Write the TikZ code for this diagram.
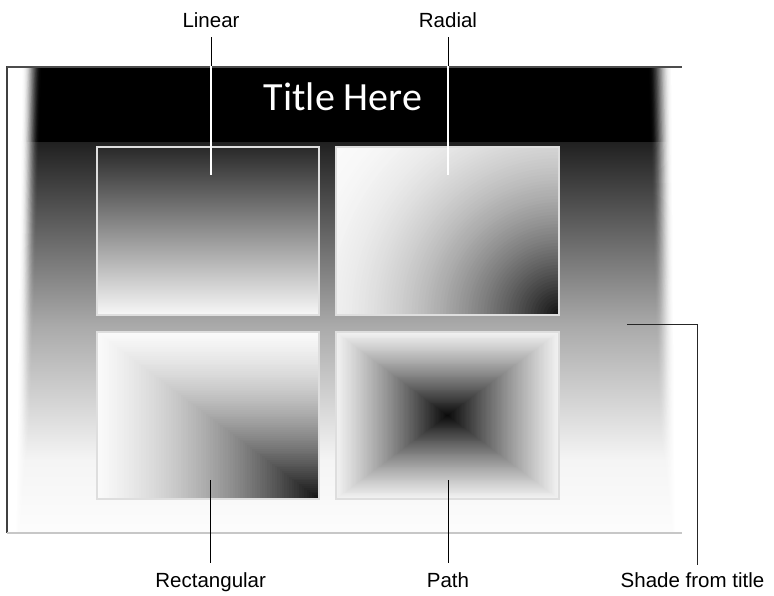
\documentclass[tikz,border=0pt]{standalone}
\usepackage{fontspec}
\setmainfont{Liberation Sans}
\newfontfamily\titlefont{Carlito}
\begin{document}
\begin{tikzpicture}[x=1pt,y=-1pt,
  lbl/.style={font=\fontsize{20.5}{24}\selectfont, inner sep=0pt, anchor=base},
  leader/.style={draw=black, line width=1pt},
  frame/.style={draw=black!13, line width=2pt, inner sep=0pt},
  gbox/.style={frame, minimum width=222pt, minimum height=167pt},
]
\useasboundingbox (0,0) rectangle (774,596);
\fill[white] (0,0) rectangle (774,596);

% ---- slide background ----
\fill[black] (7,67) rectangle (680.5,143.5);
\shade[top color=black!87, bottom color=black!34] (7,143) rectangle (680.5,323.5);
\shade[top color=black!34, bottom color=black!4] (7,323) rectangle (680.5,460.5);
\shade[top color=black!4, bottom color=black!1] (7,460) rectangle (680.5,533);

% left white strip (stacked translucent slices)
\foreach \k in {1,...,40}{
  \pgfmathsetmacro\ua{min((\k-0.5)/40,1)}
  \pgfmathsetmacro\ub{min((\k+0.5)/40,1)}
  \pgfmathsetmacro\Aa{\ua<0.45 ? 1 : 0.5*(1+cos(180*(\ua-0.45)/0.55))}
  \pgfmathsetmacro\Ab{\ub<0.45 ? 1 : 0.5*(1+cos(180*(\ub-0.45)/0.55))}
  \pgfmathsetmacro\bk{min(max(1-(1-\Aa)/max(1-\Ab,0.0001),0),1)}
  \pgfmathsetmacro\uk{\k/40}
  \fill[white, fill opacity=\bk] (6.5,67) -- ({7+35*\uk},67) -- ({7+21*\uk},533) -- (6.5,533) -- cycle;
}
% right white strip
\foreach \k in {1,...,40}{
  \pgfmathsetmacro\ua{min((\k-0.5)/40,1)}
  \pgfmathsetmacro\ub{min((\k+0.5)/40,1)}
  \pgfmathsetmacro\Aa{\ua<0.3 ? 1 : 0.5*(1+cos(180*(\ua-0.3)/0.7))}
  \pgfmathsetmacro\Ab{\ub<0.3 ? 1 : 0.5*(1+cos(180*(\ub-0.3)/0.7))}
  \pgfmathsetmacro\bk{min(max(1-(1-\Aa)/max(1-\Ab,0.0001),0),1)}
  \pgfmathsetmacro\uk{\k/40}
  \fill[white, fill opacity=\bk] (681.5,67) -- ({681-33*\uk},67) -- ({681-21*\uk},533) -- (681.5,533) -- cycle;
}

% slide border lines
\draw[black!75, line width=1.5pt] (7,66.5) -- (7,533);
\draw[black!70, line width=1.2pt] (7,67) -- (681.5,67);
\draw[black!22, line width=1.2pt] (7,533) -- (681.5,533);

% ---- Linear box ----
\node[gbox, minimum height=168pt, top color=black!84, middle color=black!31, bottom color=black!3] (linbox) at (208,231) {};

% ---- Radial box ----
\begin{scope}
  \clip (336,147) rectangle (559,315);
  \foreach \k in {90,89,...,1}{
    \pgfmathsetmacro\s{\k/90}
    \pgfmathsetmacro\c{0.06+0.92*(1-(1-\s)*(1-\s))}
    \definecolor{gtmp}{gray}{\c}
    \fill[gtmp] (559,315) circle ({282*\s});
  }
\end{scope}
\node[gbox, minimum width=223pt, minimum height=168pt] (radbox) at (447.5,231) {};

% ---- Rectangular box ----
\foreach \k in {90,89,...,1}{
  \pgfmathsetmacro\t{\k/90}
  \pgfmathsetmacro\c{0.06+0.92*(1.6*\t-0.6*\t*\t)}
  \definecolor{gtmp}{gray}{\c}
  \fill[gtmp] ({319-222*\t},{499-167*\t}) rectangle (319,499);
}
\node[gbox] (rectbox) at (208,415.5) {};

% ---- Path box ----
\foreach \k in {90,89,...,1}{
  \pgfmathsetmacro\t{\k/90}
  \pgfmathsetmacro\c{0.03+0.92*(1.2*\t-0.2*\t*\t)}
  \definecolor{gtmp}{gray}{\c}
  \fill[gtmp] ({447.5-111.5*\t},{415.5-83.5*\t}) rectangle ({447.5+111.5*\t},{415.5+83.5*\t});
}
\node[gbox, minimum width=223pt] (pathbox) at (447.5,415.5) {};

% ---- title ----
\node[font=\titlefont\fontsize{40}{48}\selectfont, text=white, anchor=base, inner sep=0pt] (title) at (343,111) {Title Here};

% ---- labels ----
\node[lbl] (linlbl) at (211,28) {Linear};
\node[lbl] (radlbl) at (448,28) {Radial};
\node[lbl] (rectlbl) at (210.7,587) {Rectangular};
\node[lbl] (pathlbl) at (448,587) {Path};
\node[lbl] (shadelbl) at (692.5,587) {Shade from title};

\coordinate (linend) at (211,175);
\coordinate (radend) at (448,175);
\coordinate (rectend) at (210.7,480);
\coordinate (pathend) at (448,480);
\coordinate (shadeend) at (627,324);
\coordinate (shadecorner) at (697,324);

% ---- leaders ----
\draw[leader, shorten <=9pt] (linlbl.south) -- (linend);
\draw[leader, shorten <=9pt] (radlbl.south) -- (radend);
\begin{scope}
  \clip (7,67) rectangle (681,533);
  \draw[black!85, line width=2.8pt] (linlbl.south) -- (linend);
  \draw[white, line width=1.1pt] (linlbl.south) -- (linend);
  \draw[black!85, line width=2.8pt] (radlbl.south) -- (radend);
  \draw[white, line width=1.1pt] (radlbl.south) -- (radend);
\end{scope}
\draw[leader, shorten >=9pt] (rectend) -- (rectlbl.north);
\draw[leader, shorten >=9pt] (pathend) -- (pathlbl.north);
\draw[leader, black!85] (shadeend) -- (shadecorner) -- ([xshift=4.5pt,yshift=7pt]shadelbl.north);
\end{tikzpicture}
\end{document}
